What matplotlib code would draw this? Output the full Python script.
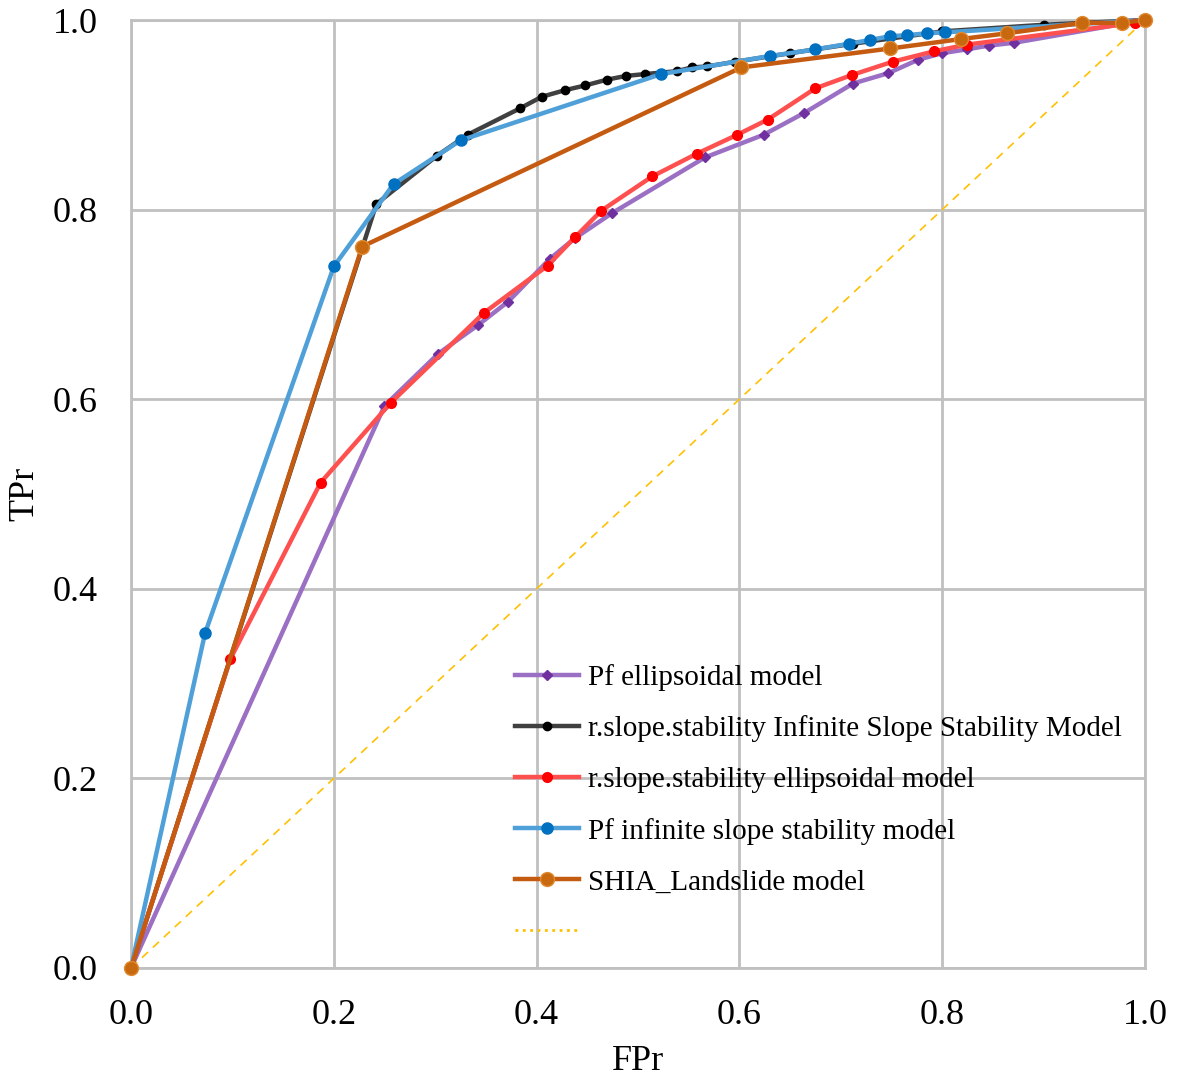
import matplotlib
matplotlib.use('Agg')
import matplotlib.pyplot as plt
from matplotlib.lines import Line2D

# Pf ellipsoidal model
pf_ell_x = [0.0, 0.250, 0.303, 0.342, 0.372, 0.413, 0.438, 0.474, 0.566, 0.624, 0.664, 0.712, 0.747, 0.776, 0.800, 0.824, 0.846, 0.871, 1.0]
pf_ell_y = [0.0, 0.593, 0.648, 0.678, 0.703, 0.748, 0.770, 0.796, 0.855, 0.879, 0.902, 0.933, 0.944, 0.958, 0.965, 0.969, 0.973, 0.976, 1.0]

# r.slope.stability infinite slope
rs_inf_x = [0.0, 0.242, 0.302, 0.332, 0.384, 0.405, 0.428, 0.448, 0.469, 0.488, 0.507, 0.538, 0.553, 0.568, 0.596, 0.650, 0.712, 0.800, 0.900, 1.0]
rs_inf_y = [0.0, 0.806, 0.857, 0.879, 0.907, 0.919, 0.926, 0.931, 0.937, 0.941, 0.943, 0.946, 0.950, 0.951, 0.956, 0.965, 0.975, 0.988, 0.995, 1.0]

# r.slope.stability ellipsoidal
rs_ell_x = [0.0, 0.098, 0.187, 0.256, 0.348, 0.411, 0.438, 0.464, 0.514, 0.558, 0.598, 0.628, 0.675, 0.711, 0.751, 0.792, 0.824, 0.990, 1.0]
rs_ell_y = [0.0, 0.326, 0.512, 0.596, 0.691, 0.741, 0.771, 0.799, 0.835, 0.859, 0.879, 0.895, 0.928, 0.942, 0.956, 0.967, 0.974, 0.997, 1.0]

# Pf infinite slope
pf_inf_x = [0.0, 0.073, 0.200, 0.259, 0.325, 0.523, 0.630, 0.675, 0.708, 0.729, 0.749, 0.765, 0.785, 0.803, 1.0]
pf_inf_y = [0.0, 0.353, 0.740, 0.827, 0.873, 0.943, 0.962, 0.969, 0.975, 0.979, 0.983, 0.984, 0.986, 0.987, 1.0]

# SHIA_Landslide
shia_x = [0.0, 0.228, 0.602, 0.749, 0.819, 0.864, 0.938, 0.977, 1.0]
shia_y = [0.0, 0.761, 0.950, 0.970, 0.980, 0.986, 0.997, 0.997, 1.0]

labels = ['Pf ellipsoidal model',
          'r.slope.stability Infinite Slope Stability Model',
          'r.slope.stability ellipsoidal model',
          'Pf infinite slope stability model',
          'SHIA_Landslide model']

plt.rcParams['font.family'] = ['Liberation Serif', 'DejaVu Serif']

fig = plt.figure(figsize=(11.78, 10.82), dpi=100)
ax = fig.add_axes([0.1112, 0.1054, 0.8608, 0.8761])

ax.plot([0, 1], [0, 1], '--', color='#FFC000', linewidth=1.2, dashes=(5, 4), zorder=2)

h1, = ax.plot(pf_ell_x, pf_ell_y, '-', color='#9a6fc4', linewidth=3.2, marker='D', markersize=5,
              markerfacecolor='#7030a0', markeredgecolor='#7030a0', zorder=3, clip_on=False)
h2, = ax.plot(rs_inf_x, rs_inf_y, '-', color='#404040', linewidth=3.2, marker='o', markersize=6,
              markerfacecolor='black', markeredgecolor='black', zorder=4, clip_on=False)
h3, = ax.plot(rs_ell_x, rs_ell_y, '-', color='#ff5050', linewidth=3.2, marker='o', markersize=7,
              markerfacecolor='#ff0000', markeredgecolor='#ff0000', zorder=5, clip_on=False)
h4, = ax.plot(pf_inf_x, pf_inf_y, '-', color='#4fa0d8', linewidth=3.2, marker='o', markersize=8,
              markerfacecolor='#0070c0', markeredgecolor='#0070c0', zorder=6, clip_on=False)
h5, = ax.plot(shia_x, shia_y, '-', color='#c55a11', linewidth=3.2, marker='o', markersize=10,
              markerfacecolor='#c8690f', markeredgecolor='#e08a30', zorder=7, clip_on=False)
h6 = Line2D([], [], linestyle=':', color='#FFC000', linewidth=2)

ax.set_xlim(0, 1)
ax.set_ylim(0, 1)
ax.set_xticks([0, 0.2, 0.4, 0.6, 0.8, 1.0])
ax.set_yticks([0, 0.2, 0.4, 0.6, 0.8, 1.0])
ax.set_xticklabels(['0.0', '0.2', '0.4', '0.6', '0.8', '1.0'])
ax.set_yticklabels(['0.0', '0.2', '0.4', '0.6', '0.8', '1.0'])
ax.tick_params(axis='x', length=0, labelsize=26, pad=22)
ax.tick_params(axis='y', length=0, labelsize=26, pad=24)
ax.grid(True, color='#c0c0c0', linewidth=2)
for s in ax.spines.values():
    s.set_color('#c0c0c0')
    s.set_linewidth(2)

ax.set_xlabel('FPr', fontsize=26, labelpad=10)
ax.set_ylabel('TPr', fontsize=26, labelpad=8)

ax.legend([h1, h2, h3, h4, h5, h6], labels + [''], loc='lower left',
          bbox_to_anchor=(0.353, -0.005), frameon=False, fontsize=21,
          handlelength=2.2, handletextpad=0.3, labelspacing=0.84)

plt.savefig('out.png', dpi=100)
